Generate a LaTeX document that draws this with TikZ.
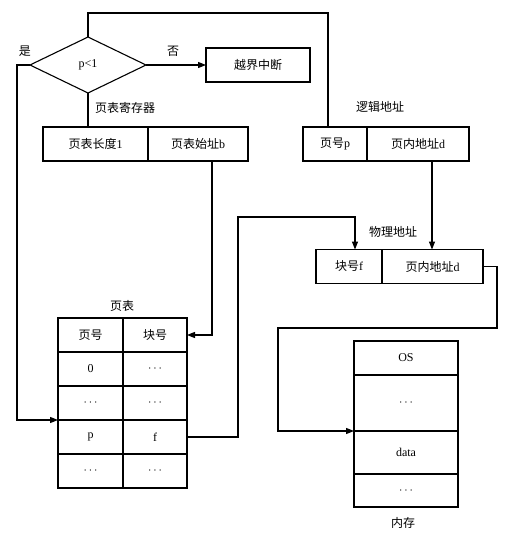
\documentclass[tikz,border=0pt]{standalone}
\usepackage{fontspec}
\setmainfont{Liberation Serif}
\newfontfamily\cjk{Noto Sans CJK SC}
\usetikzlibrary{shapes.geometric,positioning,arrows.meta}

\begin{document}
\begin{tikzpicture}[x=1pt, y=-1pt, font=\fontsize{12}{14}\selectfont, line width=1.1pt,
    pg cell/.style={rectangle, draw, inner sep=0pt, outer sep=0pt, minimum height=34pt},
    pg label/.style={inner sep=1pt},
    pg arrow/.style={-{Triangle[length=8pt, width=6pt]}}]

    \useasboundingbox (0,0) rectangle (515,541);

    % test on the page number
    \node [diamond, draw, aspect=2, minimum width=116pt, minimum height=56pt, inner sep=0pt, outer sep=0pt] (test) at (88,65) {p<1};
    \node [pg cell, minimum width=104pt] (fault) at (258,65) {\cjk 越界中断};
    \node [pg label] (yes) at (25,51) {\cjk 是};
    \node [pg label] (no) at (173,51) {\cjk 否};

    % page table register
    \node [pg cell, minimum width=105pt] (length) at (95.5,144) {{\cjk 页表长度}1};
    \node [pg cell, minimum width=100pt, right=0pt of length] (start) {{\cjk 页表始址}b};
    \node [pg label] (reg) at (125,108) {\cjk 页表寄存器};

    % logical address
    \node [pg cell, minimum width=64pt] (page) at (335,144) {{\cjk 页号}p};
    \node [pg cell, minimum width=102pt, right=0pt of page] (offset) {{\cjk 页内地址}d};
    \node [pg label] (logical) at (380,107) {\cjk 逻辑地址};

    % physical address
    \node [pg cell, minimum width=66pt] (frame) at (349,266.5) {{\cjk 块号}f};
    \node [pg cell, minimum width=101pt, right=0pt of frame] (poffset) {{\cjk 页内地址}d};
    \node [pg label] (physical) at (393,232) {\cjk 物理地址};

    % page table
    \node [pg label] (table) at (122,306) {\cjk 页表};
    \node [pg cell, minimum width=65pt] (t0a) at (90.5,335) {\cjk 页号};
    \node [pg cell, minimum width=64pt, right=0pt of t0a] (t0b) {\cjk 块号};
    \node [pg cell, minimum width=65pt, below=0pt of t0a] (t1a) {0};
    \node [pg cell, minimum width=64pt, right=0pt of t1a] (t1b) {$\cdots$};
    \node [pg cell, minimum width=65pt, below=0pt of t1a] (t2a) {$\cdots$};
    \node [pg cell, minimum width=64pt, right=0pt of t2a] (t2b) {$\cdots$};
    \node [pg cell, minimum width=65pt, below=0pt of t2a] (t3a) {p};
    \node [pg cell, minimum width=64pt, right=0pt of t3a] (t3b) {f};
    \node [pg cell, minimum width=65pt, below=0pt of t3a] (t4a) {$\cdots$};
    \node [pg cell, minimum width=64pt, right=0pt of t4a] (t4b) {$\cdots$};

    % memory
    \node [pg cell, minimum width=104pt] (os) at (406,358) {OS};
    \node [pg cell, minimum width=104pt, minimum height=56pt, below=0pt of os] (m1) {$\cdots$};
    \node [pg cell, minimum width=104pt, minimum height=43pt, below=0pt of m1] (data) {data};
    \node [pg cell, minimum width=104pt, minimum height=33pt, below=0pt of data] (m2) {$\cdots$};
    \node [pg label] (memory) at (403,523) {\cjk 内存};

    \draw [pg arrow] (test.east) -- (fault.west);
    \draw (test.south) -- (length.north -| test.south);
    \draw (test.north) |- (328,13) -- (page.north -| 328,0);
    \draw [pg arrow] (test.west) -- (17,65) |- (t3a.north west);
    \draw [pg arrow] (start.south -| 212,0) |- (t0b.east);
    \draw [pg arrow] (t3b.east) -| (238,217) -| (frame.north -| 355,0);
    \draw [pg arrow] (offset.south -| 432,0) -- (poffset.north -| 432,0);
    \draw [pg arrow] (poffset.east) -| (497,328) -| (278,380) |- (data.north west);

\end{tikzpicture}
\end{document}
